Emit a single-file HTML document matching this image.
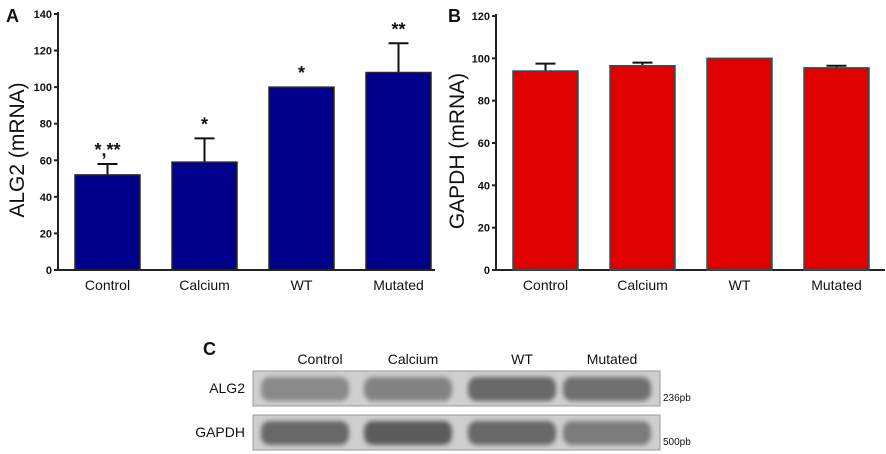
<!DOCTYPE html>
<html><head><meta charset="utf-8"><style>
body{margin:0;background:#fff}
svg{display:block;font-family:"Liberation Sans",sans-serif}
</style></head><body>
<svg id="s" width="886" height="454" viewBox="0 0 886 454">
<defs>
<filter id="blur" x="-10%" y="-30%" width="120%" height="160%"><feGaussianBlur stdDeviation="2.5"/></filter>
</defs>
<g id="A"></g>
<g id="B"></g>
<g id="C"></g>
</svg>
<script>
const categories=["Control","Calcium","WT","Mutated"];
const alg2Values=[52,59,100,108];
const alg2Errors=[6,13,0,16];
const alg2Stars=["*,**","*","*","**"];
const alg2Ticks=[0,20,40,60,80,100,120,140];
const gapdhValues=[94,96.5,100,95.5];
const gapdhErrors=[3.5,1.5,0,1];
const gapdhTicks=[0,20,40,60,80,100,120];
const blotAlg2Intensity=[0.45,0.5,0.7,0.65];
const blotGapdhIntensity=[0.7,0.8,0.7,0.55];

const NS="http://www.w3.org/2000/svg";
function mk(p,t,a,txt){const e=document.createElementNS(NS,t);for(const k in a)e.setAttribute(k,a[k]);if(txt!=null)e.textContent=txt;p.appendChild(e);return e;}

function chart(g,cfg){
  const y=v=>cfg.y0-(v-0)*(cfg.y0-cfg.yTop)/cfg.max;
  const x=i=>cfg.x0+cfg.first+i*cfg.step;
  let e=mk(g,'line',{x1:cfg.ax,y1:y(cfg.max)-2,x2:cfg.ax,y2:cfg.y0,stroke:'#222','stroke-width':2});
  
  e=mk(g,'line',{x1:cfg.ax-4,y1:cfg.y0,x2:cfg.xEnd,y2:cfg.y0,stroke:'#222','stroke-width':2});
  
  cfg.ticks.forEach(t=>{
    e=mk(g,'line',{x1:cfg.ax-4,y1:y(t),x2:cfg.ax,y2:y(t),stroke:'#222','stroke-width':2});
    
    e=mk(g,'text',{x:cfg.ax-6,y:y(t)+4,'text-anchor':'end','font-size':11,'font-weight':'bold',fill:'#111'},t);
    
  });
  e=mk(g,'text',{transform:`translate(${cfg.titleX},${(cfg.y0+y(cfg.max))/2+8}) rotate(-90)`,'text-anchor':'middle','font-size':21,fill:'#111'},cfg.title);
  
  e=mk(g,'text',{x:cfg.letterX,y:22,'font-size':18,'font-weight':'bold',fill:'#111'},cfg.letter);
  
  categories.forEach((c,i)=>{
    const bx=x(i),v=cfg.values[i],top=y(v),cx=bx+cfg.w/2;
    if(cfg.errors[i]>0){
      const et=y(v+cfg.errors[i]);
      e=mk(g,'line',{x1:cx,y1:et,x2:cx,y2:top,stroke:'#111','stroke-width':2});
      
      e=mk(g,'line',{x1:cx-10,y1:et,x2:cx+10,y2:et,stroke:'#111','stroke-width':2});
      
    }
    e=mk(g,'rect',{x:bx,y:top,width:cfg.w,height:cfg.y0-top,fill:cfg.fill,stroke:cfg.stroke,'stroke-width':1.5});
    
    if(cfg.stars){
      e=mk(g,'text',{x:cx,y:y(v+cfg.errors[i])-8,'text-anchor':'middle','font-size':18,'font-weight':'bold',fill:'#111'},cfg.stars[i]);
      
    }
    e=mk(g,'text',{x:cx,y:cfg.y0+20,'text-anchor':'middle','font-size':14,fill:'#111'},c);
    
  });
}
chart(document.getElementById('A'),{x0:0,first:75,step:97,w:65,ax:58,y0:270,yTop:14,max:140,xEnd:435,
  values:alg2Values,errors:alg2Errors,stars:alg2Stars,ticks:alg2Ticks,fill:'#00008b',stroke:'#2a2a10',
  title:'ALG2 (mRNA)',titleX:24,letter:'A',letterX:6});
chart(document.getElementById('B'),{x0:0,first:513,step:97,w:65,ax:496,y0:270,yTop:16,max:120,xEnd:885,
  values:gapdhValues,errors:gapdhErrors,stars:null,ticks:gapdhTicks,fill:'#e00000',stroke:'#0a6060',
  title:'GAPDH (mRNA)',titleX:464,letter:'B',letterX:448});

const C=document.getElementById('C');
let e=mk(C,'text',{x:203,y:355,'font-size':18,'font-weight':'bold',fill:'#111'},'C');

const laneX=[320,413,522,612];
const bandX=[305,408,512,607];
categories.forEach((c,i)=>{
  e=mk(C,'text',{x:laneX[i],y:364,'text-anchor':'middle','font-size':14,fill:'#111'},c);
  
});
[[371,blotAlg2Intensity,'ALG2','236pb','alg2-blot'],[415,blotGapdhIntensity,'GAPDH','500pb','gapdh-blot']].forEach(r=>{
  const [ty,vals,lab,sz,nm]=r;
  e=mk(C,'rect',{x:253,y:ty,width:407,height:35,fill:'#cfcfcf',stroke:'#999','stroke-width':1});
  
  vals.forEach((v,i)=>{
    const g=Math.round(195-v*130);
    e=mk(C,'rect',{x:bandX[i]-44,y:ty+6,width:88,height:24,rx:9,fill:`rgb(${g},${g},${g})`,filter:'url(#blur)'});
    
  });
  e=mk(C,'text',{x:245,y:ty+22,'text-anchor':'end','font-size':14,fill:'#111'},lab);
  
  e=mk(C,'text',{x:663,y:ty+30,'font-size':10,fill:'#111'},sz);
  
});
</script>
</body></html>
